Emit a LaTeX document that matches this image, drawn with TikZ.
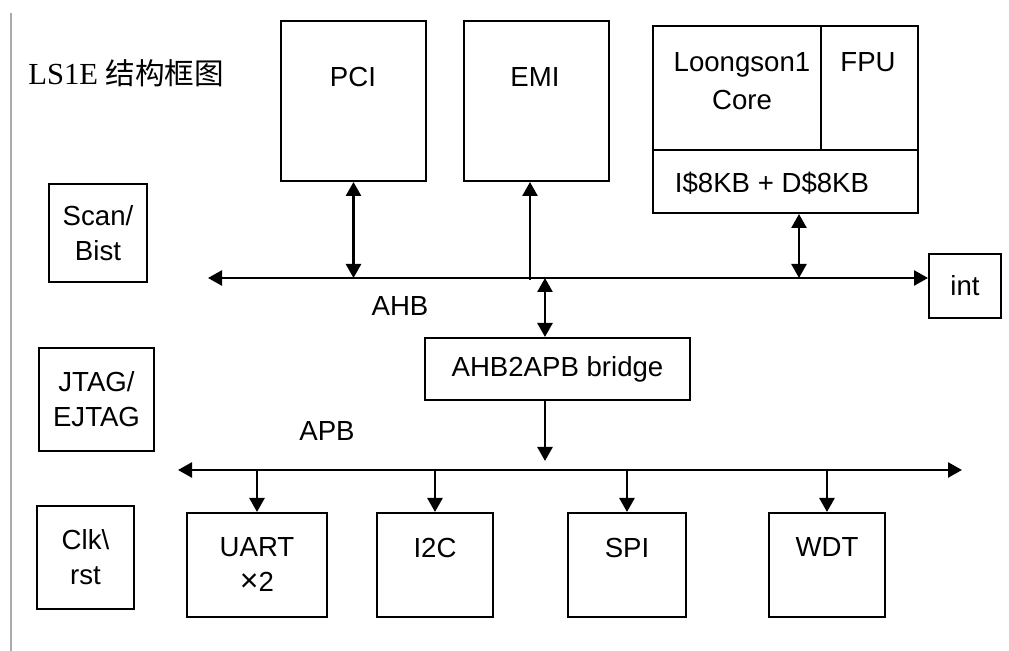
\documentclass[tikz,border=0pt]{standalone}
\usepackage{fontspec}
\setmainfont{Liberation Serif}
\setsansfont{Liberation Sans}
\newfontfamily\cjk{Noto Sans CJK SC}
\usetikzlibrary{arrows.meta,positioning,calc}

\tikzset{
  blk/.style={draw, line width=1pt, inner sep=0pt, align=center, anchor=north west},
  tip/.style={-{Triangle[length=7pt,width=7.5pt]}},
  dtip/.style={{Triangle[length=7pt,width=7.5pt]}-{Triangle[length=7pt,width=7.5pt]}},
  link/.style={line width=1.3pt},
}

\begin{document}
\begin{tikzpicture}[x=0.5pt,y=-0.5pt,font=\sffamily\fontsize{13.8pt}{17.5pt}\selectfont]
\useasboundingbox (0,0) rectangle (1009,651);
\draw[gray!65, line width=0.8pt] (11,13) -- (11,651);

\node[anchor=west, inner sep=0pt, font=\rmfamily\fontsize{15.3pt}{17pt}\selectfont] (title) at (28,73) {LS1E {\cjk\fontsize{14.8pt}{17pt}\selectfont 结构框图}};

% AHB masters and slaves
\node[blk, minimum width=72.5pt, minimum height=80pt] (pci) at (280,20) {};
\node (pcitxt) at (353,77) {PCI};
\node[blk, minimum width=72.5pt, minimum height=80pt] (emi) at (463,20) {};
\node (emitxt) at (535,77) {EMI};
\node[blk, minimum width=132.5pt, minimum height=93.5pt] (core) at (652,25) {};
\draw[line width=1pt] ($(core.north west)+(0,125)$) -- ($(core.north east)+(0,125)$);
\draw[line width=1pt] ($(core.north west)+(169,0)$) -- ($(core.north west)+(169,125)$);
\node[align=center, font=\sffamily\fontsize{13.8pt}{19pt}\selectfont] (cpu) at (742,81) {Loongson1\\Core};
\node (fpu) at (868,62) {FPU};
\node (cache) at (772,183) {I\$8KB + D\$8KB};
\node[blk, minimum width=36pt, minimum height=32pt] (int) at (928,253) {int};

% test and clock blocks
\node[blk, minimum width=49pt, minimum height=49pt] (scan) at (48,183) {Scan/\\Bist};
\node[blk, minimum width=57.5pt, minimum height=51.5pt] (jtag) at (38,347) {JTAG/\\EJTAG};
\node[blk, minimum width=48.5pt, minimum height=51.5pt] (clk) at (36,505) {Clk\textbackslash\\rst};

% bridge and APB devices
\node[blk, minimum width=132.5pt, minimum height=31pt] (bridge) at (424,337) {AHB2APB bridge};
\node[blk, minimum width=70pt, minimum height=52pt] (uart) at (186,512) {UART\\{\fontsize{16pt}{17.5pt}\selectfont ×}2};
\node[blk, minimum width=58pt, minimum height=52pt] (i2c) at (376,512) {I2C\\\mbox{}};
\node[blk, minimum width=59pt, minimum height=52pt] (spi) at (567,512) {SPI\\\mbox{}};
\node[blk, minimum width=58pt, minimum height=52pt] (wdt) at (768,512) {WDT\\\mbox{}};

% buses
\coordinate (ahbL) at (208,278);
\coordinate (apbL) at (178,470);
\coordinate (apbR) at (962,470);
\draw[link, dtip] (ahbL) -- (ahbL -| int.west);
\draw[link, dtip] (apbL) -- (apbR);
\node (ahb) at (400,306) {AHB};
\node (apb) at (327,431) {APB};

% connections
\draw[link, dtip] (pci.south) -- (pci.south |- ahbL);
\draw[link, tip] ([xshift=-3.25pt,yshift=-1pt]emi.south |- ahbL) -- ([xshift=-3.25pt]emi.south);
\draw[link, dtip] ([xshift=6.75pt]core.south) -- ([xshift=6.75pt]core.south |- ahbL);
\draw[link, dtip] ([xshift=-6.25pt]bridge.north) -- ([xshift=-6.25pt]bridge.north |- ahbL);
\draw[link, tip, shorten >=4.5pt] ([xshift=-6.25pt]bridge.south) -- ([xshift=-6.25pt]bridge.south |- apbL);
\foreach \n in {uart,i2c,spi,wdt}
  \draw[link, tip] (\n.north |- apbL) -- (\n.north);
\end{tikzpicture}
\end{document}
